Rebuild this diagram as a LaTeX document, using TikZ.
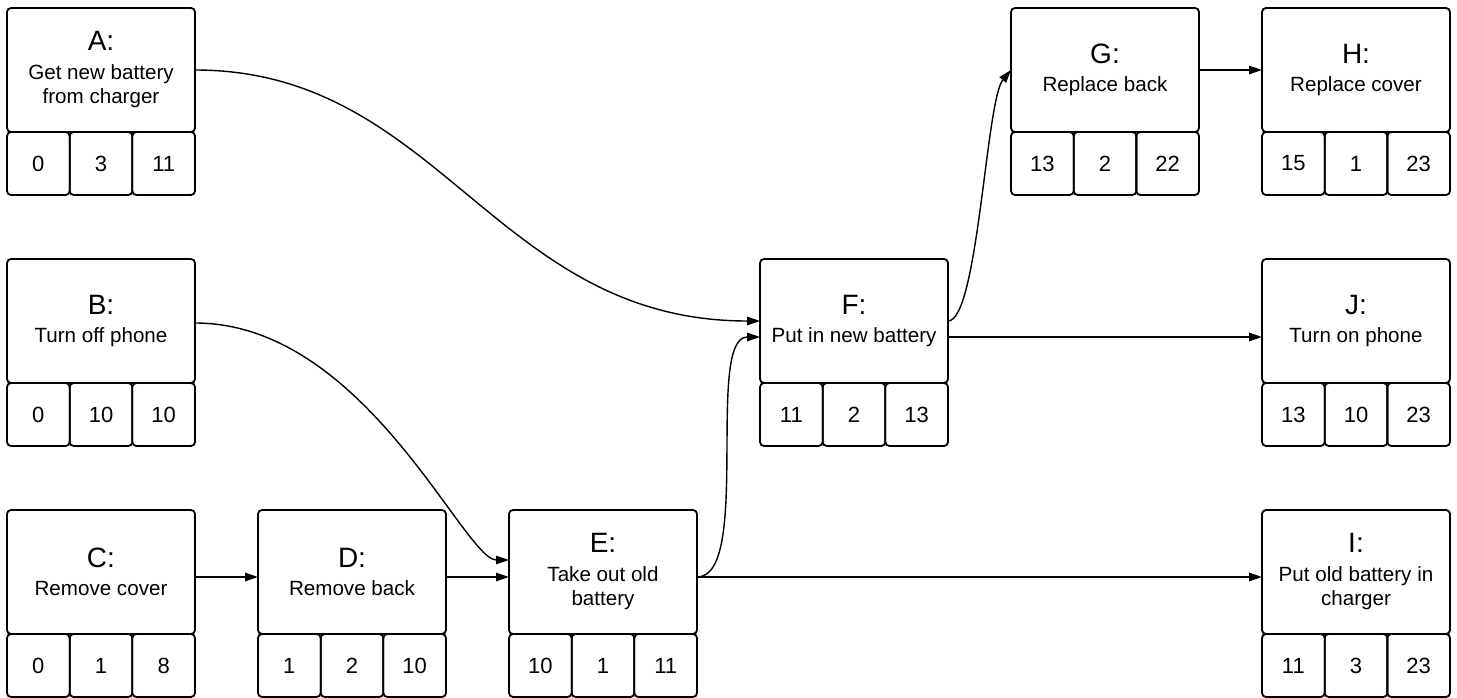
\documentclass[tikz,border=0pt]{standalone}
\usepackage{fontspec}
\setmainfont{Liberation Sans}
\usepackage{tikz}
\usetikzlibrary{
    arrows.meta,
    positioning
}

\newcommand{\tasklabel}[1]{{\fontsize{28}{30}\selectfont #1}\\[4pt]}

\begin{document}
\begin{tikzpicture}[
        node distance=127pt and 63pt,
        task/.style={
            rectangle,
            rounded corners=4pt,
            draw,
            line width=1.8pt,
            align=center,
            inner sep=0pt,
            outer sep=0pt,
            minimum width=188pt,
            minimum height=124pt,
            font=\fontsize{20.6}{24.5}\selectfont
        },
        cell/.style={
            rectangle,
            rounded corners=4pt,
            draw,
            line width=1.8pt,
            inner sep=0pt,
            outer sep=0pt,
            minimum width=62.67pt,
            minimum height=63pt,
            font=\fontsize{22}{24}\selectfont
        },
        line/.style={
            -{Triangle[length=13pt,width=8.5pt]},
            line width=1.4pt
        }
    ]

    \useasboundingbox (0pt,0pt) rectangle (1457pt,-698pt);

    \node[task, anchor=north west] (A) at (7pt,-8pt)
        {\tasklabel{A:}Get new battery\\from charger};
    \node[task, below=of A] (B)
        {\tasklabel{B:}Turn off phone};
    \node[task, below=of B] (C)
        {\tasklabel{C:}Remove cover};
    \node[task, right=of C] (D)
        {\tasklabel{D:}Remove back};
    \node[task, right=of D] (E)
        {\tasklabel{E:}Take out old\\battery};
    \node[task, above right=of E] (F)
        {\tasklabel{F:}Put in new battery};
    \node[task, above right=of F] (G)
        {\tasklabel{G:}Replace back};
    \node[task, right=of G] (H)
        {\tasklabel{H:}Replace cover};
    \node[task, below=of H] (J)
        {\tasklabel{J:}Turn on phone};
    \node[task, below=of J] (I)
        {\tasklabel{I:}Put old battery in\\charger};

    % start, duration, finish
    \foreach \n/\a/\b/\c in {A/0/3/11, B/0/10/10, C/0/1/8, D/1/2/10,
            E/10/1/11, F/11/2/13, G/13/2/22, H/15/1/23, J/13/10/23,
            I/11/3/23} {
        \node[cell, below right=0pt and 0pt of \n.south west] (\n1) {\a};
        \node[cell, right=0pt of \n1] (\n2) {\b};
        \node[cell, right=0pt of \n2] (\n3) {\c};
    }

    \draw[line]
        (A.east)
        .. controls +(245pt,0pt) and +(-265pt,0pt) ..
        (F.west);
    \draw[line]
        ([yshift=-2pt]B.east)
        .. controls +(170pt,0pt) and +(-45pt,0pt) ..
        ([yshift=12pt]E.west);
    \draw[line]
        ([yshift=-5pt]C.east) -- ([yshift=-5pt]D.west);
    \draw[line]
        ([yshift=-5pt]D.east) -- ([yshift=-5pt]E.west);
    \draw[line]
        ([yshift=-5pt]E.east)
        .. controls +(55pt,0pt) and +(-55pt,0pt) ..
        ([yshift=-16pt]F.west);
    \draw[line]
        ([yshift=-5pt]E.east) -- ([yshift=-5pt]I.west);
    \draw[line]
        (F.east)
        .. controls +(30pt,0pt) and +(-25pt,-30pt) ..
        (G.west);
    \draw[line]
        ([yshift=-16pt]F.east) -- ([yshift=-16pt]J.west);
    \draw[line]
        (G.east) -- (H.west);

\end{tikzpicture}
\end{document}
